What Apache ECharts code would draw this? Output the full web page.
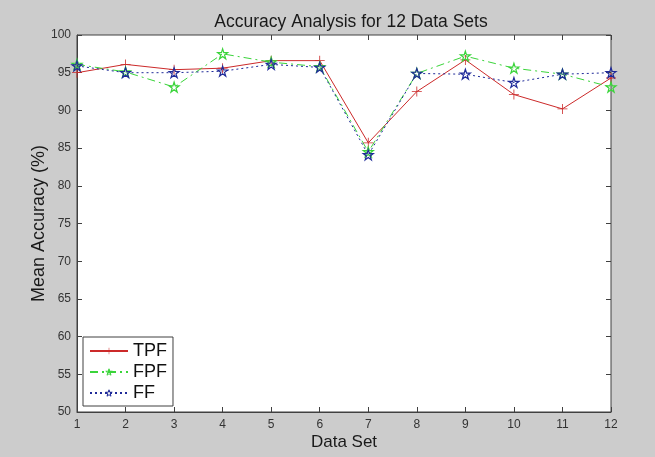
<!DOCTYPE html>
<html>
<head>
<meta charset="utf-8">
<script src="https://cdn.jsdelivr.net/npm/echarts@6/dist/echarts.min.js"></script>
<style>
	html, body { margin: 0; padding: 0; background: #cccccc; }
	#chartBox { width: 655px; height: 457px; }
</style>
</head>
<body>
<div id="chartBox"></div>
<script>
// 数据集编号
var dataSets = [1, 2, 3, 4, 5, 6, 7, 8, 9, 10, 11, 12];
// 三种方法的平均准确率 (%)
var tpfValues = [95.0, 96.1, 95.4, 95.6, 96.6, 96.6, 85.7, 92.5, 96.7, 92.1, 90.2, 94.3];
var fpfValues = [96.1, 95.1, 93.1, 97.5, 96.4, 95.8, 84.5, 94.9, 97.2, 95.6, 94.8, 93.1];
var ffValues  = [95.9, 95.0, 95.0, 95.2, 96.1, 95.7, 84.1, 94.9, 94.8, 93.7, 94.8, 95.0];
var yTicks = [50, 55, 60, 65, 70, 75, 80, 85, 90, 95, 100];

var plusPath = 'path://M4.6,0H5.4V4.6H10V5.4H5.4V10H4.6V5.4H0V4.6H4.6Z';
var starPath = 'path://M5,0L6.123,3.455L9.755,3.455L6.816,5.59L7.939,9.045L5,6.91L2.061,9.045L3.184,5.59L0.245,3.455L3.877,3.455Z';
var fontName = 'Liberation Sans, Arial, sans-serif';
var clear = 'rgba(0,0,0,0)';

function toPoints(vals){
	return dataSets.map(function(x, i){ return [x, vals[i]]; });
}

var myChart = echarts.init(document.getElementById('chartBox'));
myChart.setOption({
	backgroundColor: '#cccccc',
	animation: false,
	title: {
		text: 'Accuracy Analysis for 12 Data Sets',
		left: 346,
		textAlign: 'center',
		top: 8,
		textStyle: { fontFamily: fontName, fontSize: 17.5, fontWeight: 'normal', color: '#1a1a1a' }
	},
	grid: {
		left: 77, right: 44, top: 35, bottom: 45,
		show: true, backgroundColor: '#ffffff', borderColor: '#404040', borderWidth: 1
	},
	legend: {
		orient: 'vertical',
		left: 83, top: 337,
		backgroundColor: '#ffffff',
		borderColor: '#404040', borderWidth: 1,
		padding: [5, 6, 4, 6],
		itemWidth: 38, itemHeight: 8, itemGap: 3,
		textStyle: { fontFamily: fontName, fontSize: 18, color: '#111' },
		data: [
			{ name: 'TPF' },
			{ name: 'FPF', itemStyle: { color: clear, borderColor: '#3ad43a', borderWidth: 1 } },
			{ name: 'FF', itemStyle: { color: clear, borderColor: '#1f2a99', borderWidth: 1 } }
		]
	},
	xAxis: [
		{
			type: 'value', min: 1, max: 12, interval: 1,
			name: 'Data Set', nameLocation: 'middle', nameGap: 22, nameMoveOverlap: false,
			nameTextStyle: { fontFamily: fontName, fontSize: 17, color: '#1a1a1a' },
			axisLine: { lineStyle: { color: '#404040' } },
			axisTick: { inside: true, length: 5, lineStyle: { color: '#404040' } },
			axisLabel: { fontFamily: fontName, fontSize: 12, color: '#333', margin: 7 },
			splitLine: { show: false }
		},
		{
			type: 'value', min: 1, max: 12, interval: 1, position: 'top',
			axisLine: { show: false },
			axisTick: { inside: true, length: 5, lineStyle: { color: '#404040' } },
			axisLabel: { show: false },
			splitLine: { show: false }
		}
	],
	yAxis: [
		{
			type: 'value', min: yTicks[0], max: yTicks[yTicks.length - 1], interval: 5,
			name: 'Mean Accuracy (%)', nameLocation: 'middle', nameGap: 29, nameMoveOverlap: false,
			nameTextStyle: { fontFamily: fontName, fontSize: 18, color: '#1a1a1a' },
			axisLine: { show: true, lineStyle: { color: '#404040' } },
			axisTick: { show: true, inside: true, length: 5, lineStyle: { color: '#404040' } },
			axisLabel: { fontFamily: fontName, fontSize: 12, color: '#333', margin: 6 },
			splitLine: { show: false }
		},
		{
			type: 'value', min: yTicks[0], max: yTicks[yTicks.length - 1], interval: 5, position: 'right',
			axisLine: { show: false },
			axisTick: { show: true, inside: true, length: 5, lineStyle: { color: '#404040' } },
			axisLabel: { show: false },
			splitLine: { show: false }
		}
	],
	series: [
		{
			name: 'TPF', type: 'line', data: toPoints(tpfValues),
			symbol: plusPath, symbolSize: 10,
			lineStyle: { color: '#cc2a2a', width: 1 },
			itemStyle: { color: '#cc2a2a' }
		},
		{
			name: 'FPF', type: 'line', data: toPoints(fpfValues),
			symbol: starPath, symbolSize: 10,
			lineStyle: { color: '#3ad43a', width: 1, type: [8, 4, 2, 4] },
			itemStyle: { color: clear, borderColor: '#3ad43a', borderWidth: 1.2 }
		},
		{
			name: 'FF', type: 'line', data: toPoints(ffValues),
			symbol: starPath, symbolSize: 10,
			lineStyle: { color: '#1f2a99', width: 1, type: [2, 3] },
			itemStyle: { color: clear, borderColor: '#1f2a99', borderWidth: 1.2 }
		}
	]
});
</script>
</body>
</html>
